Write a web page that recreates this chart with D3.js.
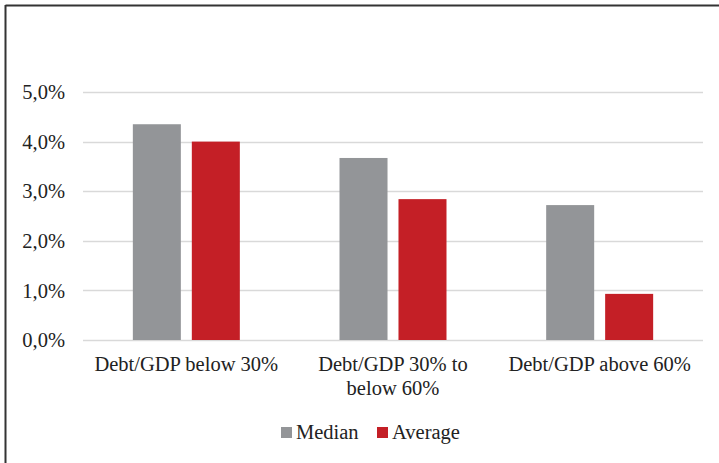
<!DOCTYPE html>
<html><head><meta charset="utf-8">
<script src="https://cdn.jsdelivr.net/npm/d3@7"></script>
<style>body{margin:0;background:#fff}svg{display:block}</style>
</head><body>
<script>
const categories = ["Debt/GDP below 30%", "Debt/GDP 30% to below 60%", "Debt/GDP above 60%"];
const categoryLines = [["Debt/GDP below 30%"], ["Debt/GDP 30% to", "below 60%"], ["Debt/GDP above 60%"]];
const seriesNames = ["Median", "Average"];
const median = [4.35, 3.67, 2.72];
const average = [4.0, 2.84, 0.93];
const yTicks = [0, 1, 2, 3, 4, 5];
const colors = ["#939598", "#c41f26"];

const W = 719, H = 463;
const FONT = '"Liberation Serif"';
const FS = 20.5;
const svg = d3.select("body").append("svg").attr("width", W).attr("height", H);

// frame
svg.append("line").attr("x1", 5.5).attr("x2", W).attr("y1", 5.5).attr("y2", 5.5).attr("stroke", "#333").attr("stroke-width", 2);
svg.append("line").attr("x1", 5.5).attr("x2", 5.5).attr("y1", 5).attr("y2", H).attr("stroke", "#333").attr("stroke-width", 2);

const m = {left: 83, right: 703, top: 92, bottom: 340};
const x = d3.scaleBand().domain(categories).range([m.left, m.right]).paddingInner(0).paddingOuter(0);
const y = d3.scaleLinear().domain([0, 5]).range([m.bottom, m.top]);
const xs = d3.scaleBand().domain(seriesNames).range([0, x.bandwidth()]).paddingInner(0.186).paddingOuter(0.845);

// gridlines
svg.append("g").selectAll("line").data(yTicks).join("line")
  .attr("x1", m.left).attr("x2", m.right)
  .attr("y1", d => Math.round(y(d)) + 0.5).attr("y2", d => Math.round(y(d)) + 0.5)
  .attr("stroke", "#d9d9d9").attr("stroke-width", 1.5);

// y axis labels
const fmt = d => d.toFixed(1).replace(".", ",") + "%";
const yAxis = d3.axisLeft(y).tickValues(yTicks).tickFormat(fmt).tickSize(0).tickPadding(0);
const ya = svg.append("g").attr("transform", `translate(65,0)`).call(yAxis)
  .attr("font-family", FONT).attr("font-size", FS);
ya.select(".domain").remove();
ya.selectAll("text").attr("font-family", FONT).attr("font-size", FS).attr("fill", "#222").attr("dy", "0.33em");

// bars
const data = [median, average];
const g = svg.append("g");
categories.forEach((c, i) => {
  seriesNames.forEach((s, j) => {
    g.append("rect")
      .attr("x", x(c) + xs(s)).attr("width", xs.bandwidth())
      .attr("y", y(data[j][i])).attr("height", y(0) - y(data[j][i]))
      .attr("fill", colors[j]);
  });
});

// x labels
const xl = svg.append("g");
categories.forEach((c, i) => {
  const t = xl.append("text").attr("x", x(c) + x.bandwidth() / 2).attr("y", 371)
    .attr("text-anchor", "middle").attr("font-family", FONT).attr("font-size", FS).attr("fill", "#222");
  categoryLines[i].forEach((ln, k) => t.append("tspan").attr("x", x(c) + x.bandwidth() / 2).attr("dy", k ? 24 : 0).text(ln));
});

// legend
const leg = svg.append("g");
const legX = [281, 377];
seriesNames.forEach((s, j) => {
  leg.append("rect").attr("x", legX[j]).attr("y", 427).attr("width", 11).attr("height", 11).attr("fill", colors[j]);
  leg.append("text").attr("x", legX[j] + 15).attr("y", 439).attr("font-family", FONT).attr("font-size", FS).attr("fill", "#222").text(s);
});
</script>
</body></html>
